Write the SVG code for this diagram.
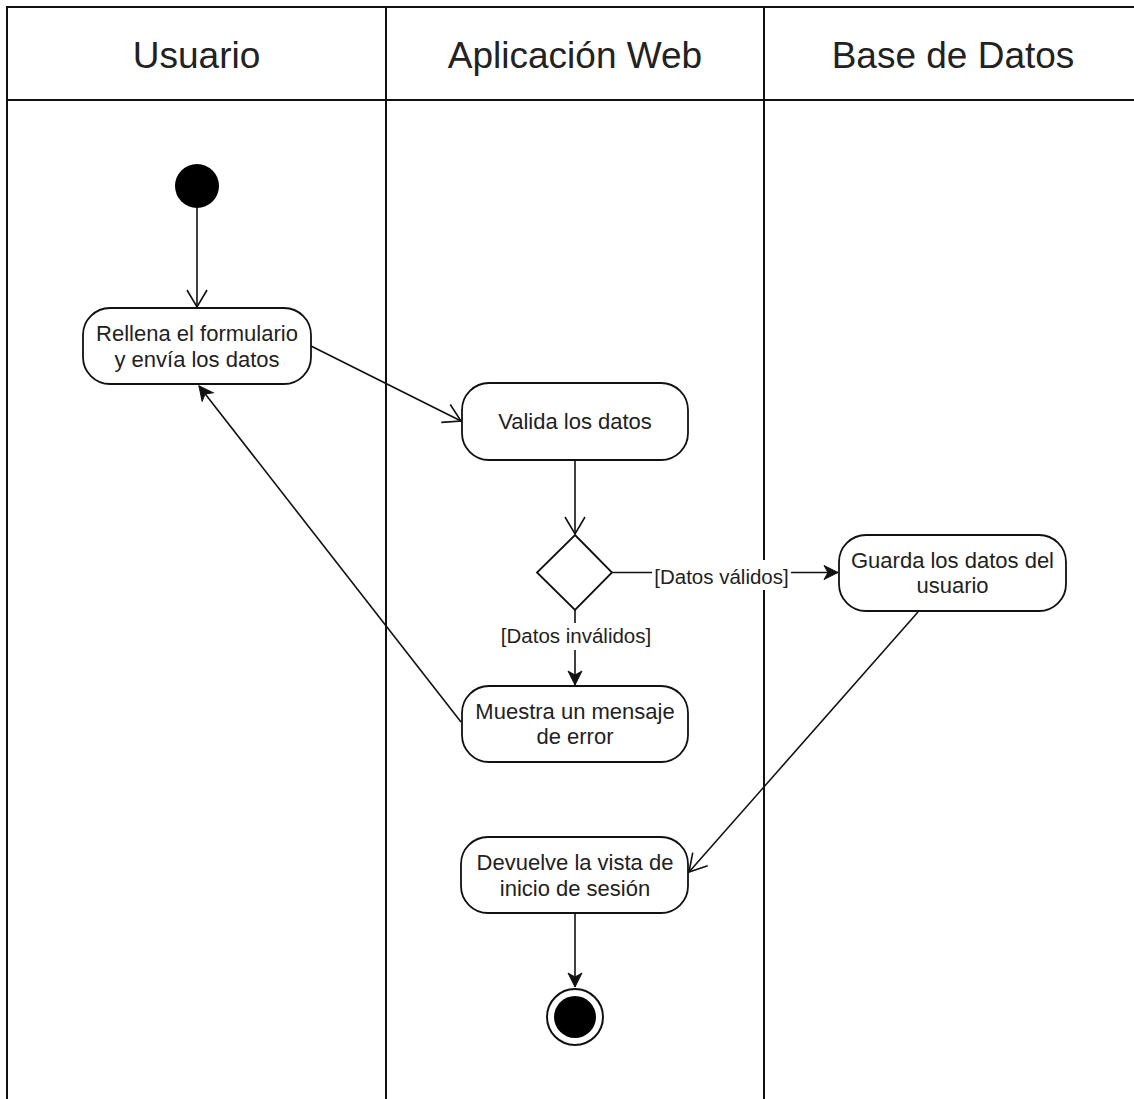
<svg xmlns="http://www.w3.org/2000/svg" width="1134" height="1099" viewBox="0 0 1134 1099">
  <style>
    .lane { fill: none; stroke: #111; stroke-width: 2; }
    .head { font-family: "Liberation Sans", Arial, Helvetica, sans-serif; font-size: 37px; fill: #222; text-anchor: middle; }
    .act rect { fill: #fff; stroke: #111; stroke-width: 1.8; }
    .act text, .lbl text { font-family: "Liberation Sans", Arial, Helvetica, sans-serif; fill: #222; text-anchor: middle; }
    .act text { font-size: 22px; }
    .lbl text { font-size: 20.5px; }
    .lbl rect { fill: #fff; stroke: none; }
    .edge { fill: none; stroke: #111; stroke-width: 1.6; }
    .open { marker-end: url(#openArrow); }
    .solid { marker-end: url(#solidArrow); }
  </style>
  <defs>
    <marker id="openArrow" markerUnits="userSpaceOnUse" markerWidth="22" markerHeight="24" refX="19" refY="11" orient="auto">
      <path d="M2,1 L19,11 L2,21" fill="none" stroke="#111" stroke-width="1.6"/>
    </marker>
    <marker id="solidArrow" markerUnits="userSpaceOnUse" markerWidth="18" markerHeight="18" refX="15" refY="8" orient="auto">
      <path d="M1,1 L15,8 L1,15 L5,8 Z" fill="#111" stroke="#111" stroke-width="1"/>
    </marker>
  </defs>
  <rect width="1134" height="1099" fill="#fff"/>

  <!-- swimlane frame -->
  <g id="lanes">
    <path class="lane" d="M7,1110 V7 H1145 M7,100 H1145 M386,7 V1110 M764,7 V1110"/>
    <text class="head" x="196.5" y="68">Usuario</text>
    <text class="head" x="575" y="68">Aplicación Web</text>
    <text class="head" x="953" y="68">Base de Datos</text>
  </g>

  <!-- connectors -->
  <g id="connectors">
    <path class="edge open" d="M197,208 L197,307"/>
    <path class="edge open" d="M311,346 L461,421"/>
    <path class="edge open" d="M575,460 L575,534"/>
    <path class="edge solid" d="M612,572.5 L838,572.5"/>
    <path class="edge solid" d="M575,610 L575,685"/>
    <path class="edge solid" d="M461,722 L199,386"/>
    <path class="edge open" d="M918,612 L689,872"/>
    <path class="edge solid" d="M575,913 L575,987"/>
    <g class="lbl">
      <rect x="652" y="560" width="139" height="30"/>
      <text x="721.5" y="584">[Datos válidos]</text>
      <rect x="500" y="623" width="153" height="27"/>
      <text x="576" y="643">[Datos inválidos]</text>
    </g>
  </g>

  <!-- nodes -->
  <g id="start">
    <circle cx="197" cy="186" r="22" fill="#000"/>
  </g>
  <g id="fill-form" class="act">
    <rect x="83" y="308" width="228" height="76" rx="27" ry="27"/>
    <text x="197" y="341">Rellena el formulario</text>
    <text x="197" y="367">y envía los datos</text>
  </g>
  <g id="validate" class="act">
    <rect x="462" y="383" width="226" height="77" rx="27" ry="27"/>
    <text x="575" y="429">Valida los datos</text>
  </g>
  <g id="decision">
    <polygon points="575,535 612,572.5 575,610 537,572.5" fill="#fff" stroke="#111" stroke-width="1.8"/>
  </g>
  <g id="save-user" class="act">
    <rect x="839" y="535" width="227" height="76" rx="27" ry="27"/>
    <text x="952.5" y="568">Guarda los datos del</text>
    <text x="952.5" y="593">usuario</text>
  </g>
  <g id="show-error" class="act">
    <rect x="462" y="686" width="226" height="76" rx="27" ry="27"/>
    <text x="575" y="719">Muestra un mensaje</text>
    <text x="575" y="744">de error</text>
  </g>
  <g id="return-login" class="act">
    <rect x="461" y="837" width="227" height="76" rx="27" ry="27"/>
    <text x="575" y="870">Devuelve la vista de</text>
    <text x="575" y="896">inicio de sesión</text>
  </g>
  <g id="end">
    <circle cx="575" cy="1017" r="28" fill="#fff" stroke="#111" stroke-width="2"/>
    <circle cx="575" cy="1017" r="21" fill="#000"/>
  </g>
</svg>
